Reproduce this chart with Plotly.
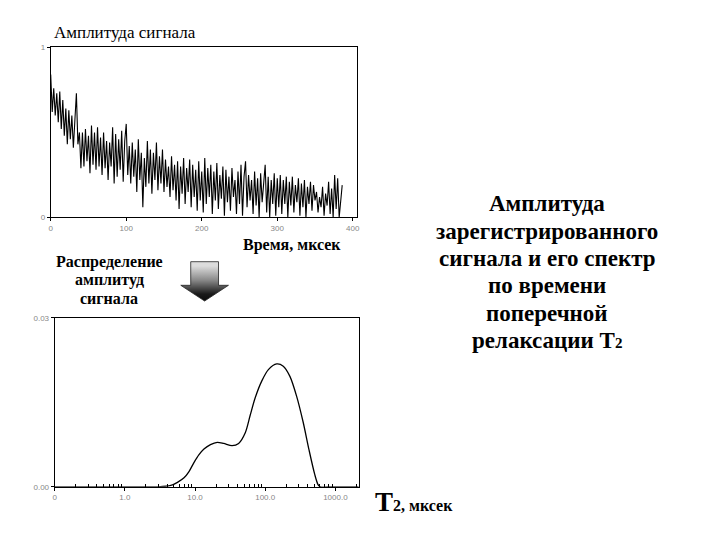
import plotly.graph_objects as go

# ---------------- data ----------------
# top panel: recorded signal amplitude vs time (microseconds), sampled every 2 us
time_us = list(range(0, 388, 2))
signal_amp = [
    0.84, 0.62, 0.76, 0.60, 0.73, 0.56, 0.74, 0.52, 0.69, 0.48, 0.64, 0.43, 0.63, 0.46, 0.60, 0.41, 0.57, 0.73, 0.43, 0.50, 0.29,
    0.50, 0.30, 0.52, 0.33, 0.48, 0.26, 0.54, 0.31, 0.50, 0.28, 0.53, 0.30, 0.47, 0.25, 0.50, 0.29, 0.45, 0.22, 0.44, 0.30,
    0.53, 0.20, 0.49, 0.24, 0.46, 0.28, 0.51, 0.21, 0.45, 0.55,
    0.25, 0.42, 0.20, 0.44, 0.24, 0.40, 0.15, 0.46, 0.22, 0.38, 0.06, 0.35, 0.18, 0.45, 0.20, 0.40, 0.14, 0.38, 0.22, 0.44,
    0.16, 0.36, 0.20, 0.40, 0.15,
    0.34, 0.18, 0.30, 0.12, 0.36, 0.16, 0.31, 0.10, 0.33, 0.05, 0.30, 0.14, 0.35, 0.08, 0.29, 0.15, 0.34, 0.06, 0.31, 0.12,
    0.28, 0.04, 0.33, 0.10, 0.27,
    0.03, 0.35, 0.08, 0.29, 0.12, 0.31, 0.02, 0.27, 0.10, 0.32, 0.05, 0.25, 0.11, 0.30, 0.01, 0.28, 0.09, 0.24, 0.04, 0.29,
    0.12, 0.22, 0.02, 0.27, 0.08, 0.31, 0.01, 0.24, 0.33, 0.06, 0.25, 0.10, 0.22, 0.02, 0.27, 0.07, 0.23, 0.00, 0.26, 0.09,
    0.21, 0.31, 0.03, 0.24, 0.00, 0.22, 0.08, 0.26, 0.01, 0.23,
    0.06, 0.25, 0.02, 0.22, 0.08, 0.24, 0.00, 0.21, 0.07, 0.24, 0.03, 0.19, 0.09, 0.23, 0.01, 0.20, 0.06, 0.22, 0.00, 0.18,
    0.08, 0.21, 0.04, 0.19, 0.10, 0.15, 0.03, 0.12, 0.06, 0.18, 0.01, 0.14, 0.07, 0.21, 0.02, 0.17, 0.00, 0.25, 0.05, 0.23,
    0.00, 0.10, 0.19,
]

# bottom panel: T2 distribution
t2_us = [0.1, 1.0, 3.0, 4.52, 5.62, 6.97, 8.2, 9.65, 11.4, 13.4, 16.6, 20.7, 25.6, 33.7, 41.8, 52.0, 61.1, 72.0,
         89.5, 111, 146, 181, 225, 280, 347, 422, 508, 566, 611, 900, 1500, 2200]
t2_amp = [0.0, 0.0, 0.0, 0.00024, 0.0008, 0.0016, 0.0027, 0.0043, 0.0057, 0.0067, 0.0075, 0.0079, 0.0077, 0.0073,
          0.0077, 0.0096, 0.0127, 0.0158, 0.0188, 0.0208, 0.0218, 0.0214, 0.0196, 0.0161, 0.0115, 0.0065, 0.0022,
          0.0004, 0.0, 0.0, 0.0, 0.0]

top_xticks = [0, 100, 200, 300, 400]
top_xlabels = ["0", "100", "200", "300", "400"]
top_yticks = [0, 1]
top_ylabels = ["0", "1"]
bot_xticks = [0.1, 1, 10, 100, 1000]
bot_xlabels = ["0", "1.0", "10.0", "100.0", "1000.0"]
bot_yticks = [0, 0.03]
bot_ylabels = ["0.00", "0.03"]

# decorative arrow outline (page pixel coordinates)
arrow_x = [190, 218, 218, 228, 204, 180, 190, 190]
arrow_y = [262, 262, 286, 286, 302, 286, 286, 262]

SERIF = "Liberation Serif, Times New Roman, serif"
TICKFONT = dict(family="Liberation Sans, Arial, sans-serif", size=8, color="#888")

# the page has an 8px body margin; the figure is sized/positioned to compensate
OFF = 8
W, H = 720 - OFF, 540 - OFF

fig = go.Figure()
fig.add_trace(go.Scatter(x=time_us, y=signal_amp, mode="lines",
                         line=dict(color="black", width=1.1), xaxis="x", yaxis="y",
                         showlegend=False, hoverinfo="skip"))
fig.add_trace(go.Scatter(x=t2_us, y=t2_amp, mode="lines",
                         line=dict(color="black", width=1.3, shape="spline", smoothing=0.8),
                         xaxis="x2", yaxis="y2", showlegend=False, hoverinfo="skip"))
fig.add_trace(go.Scatter(x=arrow_x, y=arrow_y, mode="lines", fill="toself",
                         line=dict(color="#222", width=0.8),
                         fillgradient=dict(type="vertical", start=262, stop=302,
                                           colorscale=[[0, "#dcdcdc"], [0.35, "#8a8a8a"],
                                                       [0.7, "#1a1a1a"], [1, "#000"]]),
                         xaxis="x3", yaxis="y3", showlegend=False, hoverinfo="skip"))

def fx(a, b):
    return [(a - OFF) / W, (b - OFF) / W]
def fy(top, bottom):
    return [1 - (bottom - OFF) / H, 1 - (top - OFF) / H]

axis_common = dict(showline=True, linecolor="black", linewidth=1, mirror=True,
                   showgrid=False, zeroline=False, ticks="outside", ticklen=3,
                   tickcolor="black", tickfont=TICKFONT)

fig.update_layout(
    width=W, height=H, autosize=False,
    margin=dict(l=0, r=0, t=0, b=0),
    paper_bgcolor="white", plot_bgcolor="rgba(0,0,0,0)",
    xaxis=dict(domain=fx(49, 357), range=[0, 405], tickvals=top_xticks, ticktext=top_xlabels,
               anchor="y", **axis_common),
    yaxis=dict(domain=fy(44, 217), range=[0, 1], tickvals=top_yticks, ticktext=top_ylabels,
               anchor="x", **axis_common),
    xaxis2=dict(domain=fx(53, 359), type="log", range=[-1, 3.33], tickvals=bot_xticks,
                ticktext=bot_xlabels, anchor="y2",
                minor=dict(ticks="inside", ticklen=3, tickcolor="black",
                           tickvals=[v * m for v in [0.1, 1, 10, 100, 1000] for m in range(2, 10)]),
                **axis_common),
    yaxis2=dict(domain=fy(319, 491), range=[0, 0.03], tickvals=bot_yticks, ticktext=bot_ylabels,
                anchor="x2", **axis_common),
    # overlay axis in page pixels, used only for the arrow and the text labels
    xaxis3=dict(domain=[0, 1], range=[OFF, 720], visible=False, anchor="y3", fixedrange=True),
    yaxis3=dict(domain=[0, 1], range=[540, OFF], visible=False, anchor="x3", fixedrange=True),
)

def note(text, x, y, size, bold=True, xanchor="center"):
    t = f"<b>{text}</b>" if bold else text
    fig.add_annotation(text=t, x=x, y=y, xref="x3", yref="y3", showarrow=False,
                       xanchor=xanchor, yanchor="middle",
                       font=dict(family=SERIF, size=size, color="black"))

note("Амплитуда сигнала", 50, 29, 17, bold=False, xanchor="left")
note("Время, мксек", 292, 245, 16)
for txt, yy in [("Распределение", 262), ("амплитуд", 281), ("сигнала", 299)]:
    note(txt, 108, yy, 16)

right_lines = ["Амплитуда", "зарегистрированного", "сигнала и его спектр",
               "по времени", "поперечной",
               "релаксации T<span style='font-size:15px'>2</span>"]
for i, txt in enumerate(right_lines):
    note(txt, 549, 203 + i * 27.8, 23)

note("T<span style='font-size:16px'>2, мксек</span>", 374, 506, 27, xanchor="left")

fig.write_html("out.html")
